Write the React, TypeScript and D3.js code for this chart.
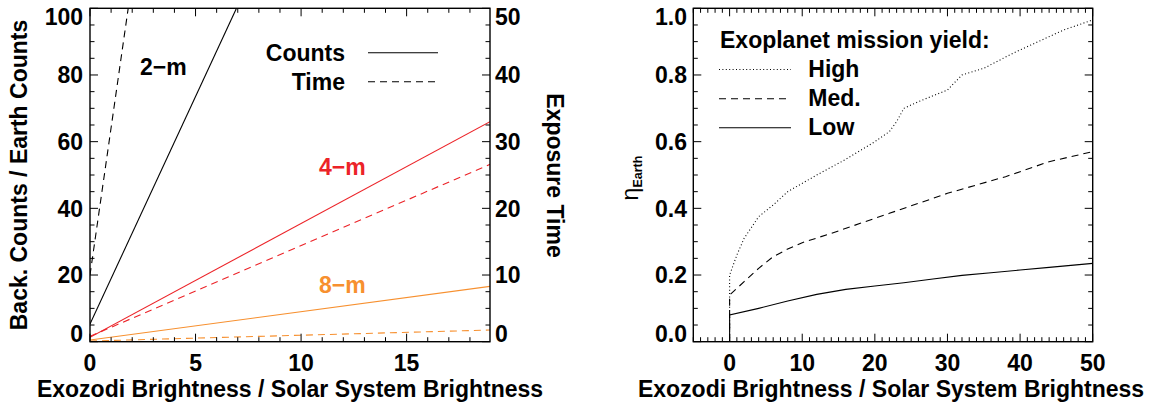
import React from "react";
import * as d3 from "d3";

// ---------- Data: left panel (background counts & exposure time vs exozodi) ----------
const x2mCounts = [0, 6.94];
const counts2m = [5.3, 100];
const x2mTime = [0, 1.81];
const time2m = [10, 50];
const xAperture = [0, 18.95];
const counts4m = [1.3, 66];
const time4m = [0.8, 26.6];
const counts8m = [0.5, 16.6];
const time8m = [0.1, 1.75];

const leftXTicks = [0, 5, 10, 15];
const leftYTicks = [0, 20, 40, 60, 80, 100];
const rightYTicks = [0, 10, 20, 30, 40, 50];

// ---------- Data: right panel (eta Earth vs exozodi) ----------
const highX = [0, 0, 1, 2, 4, 6, 8, 12, 16, 20, 22, 23, 24, 26, 30, 32, 35, 39, 43, 46, 50];
const highY = [0, 0.2, 0.26, 0.31, 0.375, 0.41, 0.45, 0.5, 0.547, 0.6, 0.63, 0.66, 0.7, 0.72, 0.755, 0.8, 0.82, 0.865, 0.905, 0.935, 0.965];
const medX = [0, 0, 2, 4, 6, 8, 10, 14, 18, 22, 26, 30, 34, 38, 40, 44, 50];
const medY = [0, 0.14, 0.18, 0.22, 0.255, 0.278, 0.297, 0.325, 0.355, 0.385, 0.415, 0.445, 0.47, 0.495, 0.51, 0.54, 0.57];
const lowX = [0, 0, 4, 8, 12, 16, 20, 24, 28, 32, 36, 40, 44, 50];
const lowY = [0, 0.08, 0.1, 0.122, 0.142, 0.157, 0.167, 0.177, 0.188, 0.199, 0.207, 0.215, 0.223, 0.235];

const etaXTicks = [0, 10, 20, 30, 40, 50];
const etaYTicks = [0, 0.2, 0.4, 0.6, 0.8, 1.0];

const RED = "#ec2328";
const ORANGE = "#f7902f";
const FONT = "'Liberation Sans', Arial, Helvetica, sans-serif";

const TOP = 8.3;
const BOTTOM = 341.7;

const xL = d3.scaleLinear().domain([0, 18.95]).range([90, 490]);
const yL = d3.scaleLinear().domain([0, 100]).range([BOTTOM, TOP]);
const yT = d3.scaleLinear().domain([0, 50]).range([BOTTOM, TOP]);

const xE = d3.scaleLinear().domain([-5, 50]).range([693.3, 1092.7]);
const yE = d3.scaleLinear().domain([0, 1]).range([BOTTOM, TOP]);

function pathOf(xs: number[], ys: number[], sx: any, sy: any) {
  const pts: [number, number][] = xs.map((x, i) => [x, ys[i]]);
  return d3.line<[number, number]>().x((d) => sx(d[0])).y((d) => sy(d[1]))(pts) || "";
}

function clampLabel(y: number) {
  return Math.max(TOP + 8, Math.min(BOTTOM - 8, y));
}

const MAJ = 8;
const MIN = 4.5;

function Ticks({ sx, x0, x1, major, minor, side, yPos }: any) {
  const els: any[] = [];
  const dir = side === "bottom" ? -1 : 1;
  d3.range(x0, x1 + 1e-9, minor).forEach((v: number, i: number) => {
    const isMaj = Math.abs(v / major - Math.round(v / major)) < 1e-6;
    const len = isMaj ? MAJ : MIN;
    els.push(
      <line key={side + i} x1={sx(v)} x2={sx(v)} y1={yPos} y2={yPos + dir * len} stroke="#000" strokeWidth={1} />
    );
  });
  return <g>{els}</g>;
}

function VTicks({ sy, y0, y1, major, minor, side, xPos }: any) {
  const els: any[] = [];
  const dir = side === "left" ? 1 : -1;
  d3.range(y0, y1 + 1e-9, minor).forEach((v: number, i: number) => {
    const isMaj = Math.abs(v / major - Math.round(v / major)) < 1e-6;
    const len = isMaj ? MAJ : MIN;
    els.push(
      <line key={side + i} y1={sy(v)} y2={sy(v)} x1={xPos} x2={xPos + dir * len} stroke="#000" strokeWidth={1} />
    );
  });
  return <g>{els}</g>;
}

export default function App() {
  const txt = { fontFamily: FONT, fontWeight: 700, fontSize: 23 } as any;
  return (
    <svg width={1156} height={404} style={{ position: "absolute", left: 0, top: 0, background: "#fff" }}>
      <defs>
        <clipPath id="clipL">
          <rect x={90} y={TOP} width={400} height={BOTTOM - TOP} />
        </clipPath>
        <clipPath id="clipR">
          <rect x={693.3} y={TOP} width={399.4} height={BOTTOM - TOP} />
        </clipPath>
      </defs>

      {/* ---------------- Left panel ---------------- */}
      <g clipPath="url(#clipL)" fill="none" strokeWidth={1.1}>
        <path d={pathOf(x2mCounts, counts2m, xL, yL)} stroke="#000" />
        <path d={pathOf(x2mTime, time2m, xL, yT)} stroke="#000" strokeDasharray="7,5" />
        <path d={pathOf(xAperture, counts4m, xL, yL)} stroke={RED} />
        <path d={pathOf(xAperture, time4m, xL, yT)} stroke={RED} strokeDasharray="7,5" />
        <path d={pathOf(xAperture, counts8m, xL, yL)} stroke={ORANGE} />
        <path d={pathOf(xAperture, time8m, xL, yT)} stroke={ORANGE} strokeDasharray="7,5" />
      </g>
      <rect x={90} y={TOP} width={400} height={BOTTOM - TOP} fill="none" stroke="#000" strokeWidth={1.4} />
      <Ticks sx={xL} x0={0} x1={18} major={5} minor={1} side="bottom" yPos={BOTTOM} />
      <Ticks sx={xL} x0={0} x1={18} major={5} minor={1} side="top" yPos={TOP} />
      <VTicks sy={yL} y0={0} y1={100} major={20} minor={5} side="left" xPos={90} />
      <VTicks sy={yT} y0={0} y1={50} major={10} minor={2.5} side="right" xPos={490} />

      {leftXTicks.map((v) => (
        <text key={"lx" + v} x={xL(v)} y={370.5} textAnchor="middle" {...txt}>{v}</text>
      ))}
      {leftYTicks.map((v) => (
        <text key={"ly" + v} x={83} y={clampLabel(yL(v))} dy="0.36em" textAnchor="end" {...txt}>{v}</text>
      ))}
      {rightYTicks.map((v) => (
        <text key={"ry" + v} x={495} y={clampLabel(yT(v))} dy="0.36em" textAnchor="start" {...txt}>{v}</text>
      ))}
      <text x={290} y={397} textAnchor="middle" {...txt}>Exozodi Brightness / Solar System Brightness</text>
      <text transform="translate(26.7,175) rotate(-90)" textAnchor="middle" {...txt}>Back. Counts / Earth Counts</text>
      <text transform="translate(547,175.5) rotate(90)" textAnchor="middle" {...txt}>Exposure Time</text>

      <text x={345} y={61} textAnchor="end" {...txt}>Counts</text>
      <text x={345} y={90} textAnchor="end" {...txt}>Time</text>
      <line x1={368} x2={438} y1={52.7} y2={52.7} stroke="#000" strokeWidth={1.1} />
      <line x1={368} x2={438} y1={81.7} y2={81.7} stroke="#000" strokeWidth={1.1} strokeDasharray="7,5" />

      <text x={140} y={75} {...txt}>2−m</text>
      <text x={319} y={175} {...txt} fill={RED}>4−m</text>
      <text x={319} y={293} {...txt} fill={ORANGE}>8−m</text>

      {/* ---------------- Right panel ---------------- */}
      <g clipPath="url(#clipR)" fill="none" strokeWidth={1.1} stroke="#000">
        <path d={pathOf(highX, highY, xE, yE)} strokeDasharray="1,2.4" />
        <path d={pathOf(medX, medY, xE, yE)} strokeDasharray="7,5" />
        <path d={pathOf(lowX, lowY, xE, yE)} />
      </g>
      <rect x={693.3} y={TOP} width={399.4} height={BOTTOM - TOP} fill="none" stroke="#000" strokeWidth={1.4} />
      <Ticks sx={xE} x0={-5} x1={50} major={10} minor={1} side="bottom" yPos={BOTTOM} />
      <Ticks sx={xE} x0={-5} x1={50} major={10} minor={1} side="top" yPos={TOP} />
      <VTicks sy={yE} y0={0} y1={1} major={0.2} minor={0.05} side="left" xPos={693.3} />
      <VTicks sy={yE} y0={0} y1={1} major={0.2} minor={0.05} side="right" xPos={1092.7} />

      {etaXTicks.map((v) => (
        <text key={"ex" + v} x={xE(v)} y={370.5} textAnchor="middle" {...txt}>{v}</text>
      ))}
      {etaYTicks.map((v) => (
        <text key={"ey" + v} x={687} y={clampLabel(yE(v))} dy="0.36em" textAnchor="end" {...txt}>{v.toFixed(1)}</text>
      ))}
      <text x={891} y={397} textAnchor="middle" {...txt}>Exozodi Brightness / Solar System Brightness</text>
      <text transform="translate(638,178) rotate(-90)" textAnchor="middle" fontFamily={FONT}>
        <tspan fontSize={23} fontWeight={400}>η</tspan>
        <tspan fontSize={12.5} fontWeight={700} dy={4}>Earth</tspan>
      </text>

      <text x={720} y={48} {...txt}>Exoplanet mission yield:</text>
      <text x={808.3} y={77} {...txt}>High</text>
      <text x={808.3} y={106} {...txt}>Med.</text>
      <text x={808.3} y={135} {...txt}>Low</text>
      <line x1={719} x2={791} y1={69.5} y2={69.5} stroke="#000" strokeWidth={1.1} strokeDasharray="1,2.4" />
      <line x1={719} x2={791} y1={98.7} y2={98.7} stroke="#000" strokeWidth={1.1} strokeDasharray="7,5" />
      <line x1={719} x2={791} y1={127.7} y2={127.7} stroke="#000" strokeWidth={1.1} />
    </svg>
  );
}
